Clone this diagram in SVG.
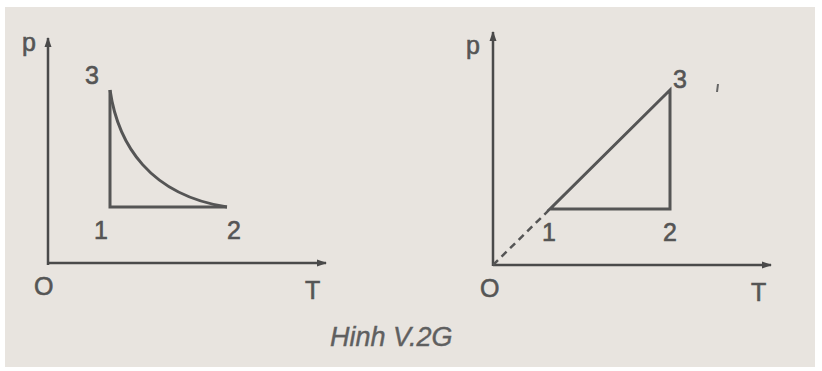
<svg xmlns="http://www.w3.org/2000/svg" width="822" height="371" viewBox="0 0 822 371">
<defs>
<marker id="arr" markerWidth="10" markerHeight="10" refX="9" refY="5" orient="auto" markerUnits="userSpaceOnUse">
<path d="M0,1.5 L10,5 L0,8.5 Z" fill="#4a4a4a"/>
</marker>
<style>
.ax{stroke:#4a4a4a;stroke-width:2.5;fill:none}
.ln{stroke:#555;stroke-width:3;fill:none;stroke-linejoin:miter}
.lb{font-family:"Liberation Sans",Arial,sans-serif;font-size:25px;fill:#555;stroke:#555;stroke-width:0.6}
.cap{font-family:"Liberation Sans",Arial,sans-serif;font-size:27px;font-style:italic;fill:#5f5f5f;stroke:#5f5f5f;stroke-width:0.4}
</style>
</defs>
<rect x="0" y="0" width="822" height="371" fill="#ffffff"/>
<rect x="5" y="7" width="810" height="360" fill="#e8e4df"/>
<g id="connectors">
<path class="ax" d="M48,265 L48,38" marker-end="url(#arr)"/>
<path class="ax" d="M48,263 L326,263" marker-end="url(#arr)"/>
<path class="ax" d="M493,266 L493,32" marker-end="url(#arr)"/>
<path class="ax" d="M493,265 L771,265" marker-end="url(#arr)"/>
<path class="ln" d="M110,90 L110,207 L227,207"/>
<path class="ln" d="M110,90 C118,145 150,195 227,207"/>
<path class="ln" d="M550,209 L670,209 L670,90 Z"/>
<path d="M493,265 L550,209" stroke="#555" stroke-width="2.5" stroke-dasharray="7,5" fill="none"/>
<path d="M718,84 L717,92" stroke="#666" stroke-width="2" fill="none"/>
</g>
<g id="left-labels">
<text class="lb" x="22" y="51">p</text>
<text class="lb" x="85" y="84">3</text>
<text class="lb" x="94" y="239">1</text>
<text class="lb" x="227" y="239">2</text>
<text class="lb" x="34" y="295">O</text>
<text class="lb" x="305" y="299">T</text>
</g>
<g id="right-labels">
<text class="lb" x="466" y="54">p</text>
<text class="lb" x="673" y="88">3</text>
<text class="lb" x="542" y="241">1</text>
<text class="lb" x="663" y="241">2</text>
<text class="lb" x="480" y="297">O</text>
<text class="lb" x="751" y="301">T</text>
</g>
<g id="caption">
<text class="cap" x="330" y="346">Hinh V.2G</text>
</g>
</svg>
